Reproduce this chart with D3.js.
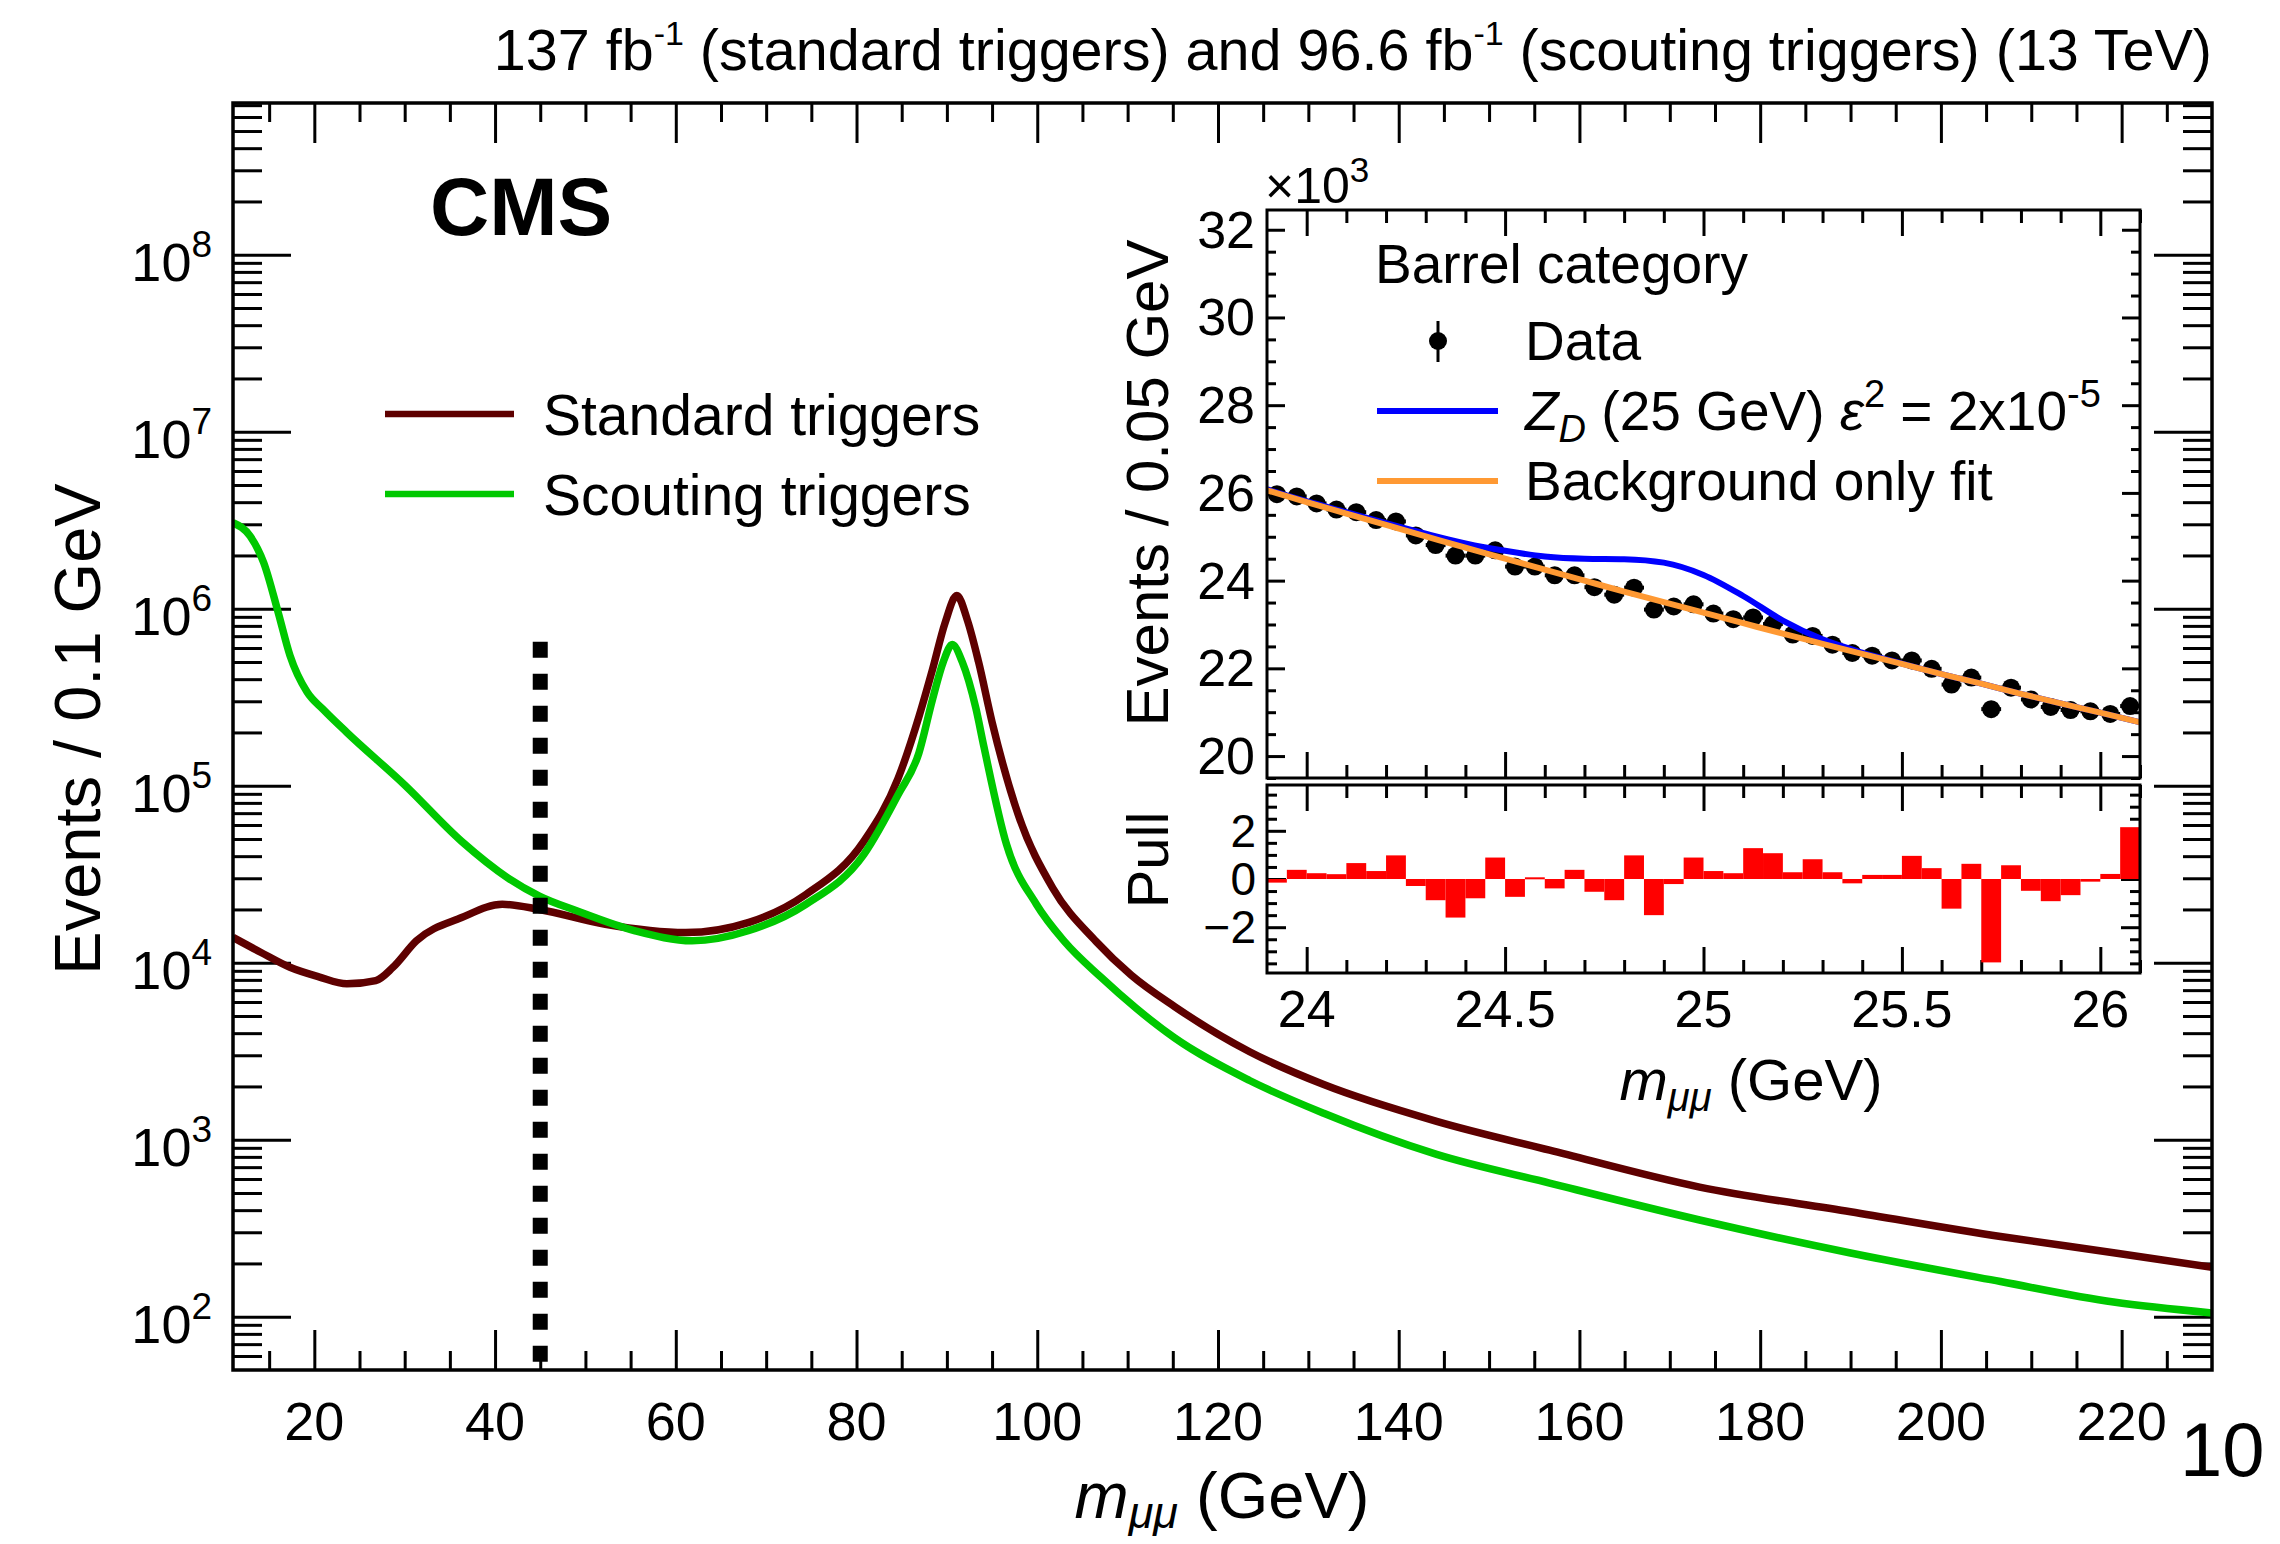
<!DOCTYPE html>
<html>
<head>
<meta charset="utf-8">
<script src="https://cdn.jsdelivr.net/npm/d3@7"></script>
<style>
  body { margin: 0; background: #fff; }
  text { font-family: "Liberation Sans", Arial, Helvetica, sans-serif; fill: #000; }
</style>
</head>
<body>
<div id="chart"></div>
<script>
// ---- main plot: dimuon mass spectra (Events / 0.1 GeV) ----
const stdMass = [11, 14, 17.3, 20.5, 23.6, 26.8, 28.7, 31.3, 36.3, 40.8, 44.9, 52.2, 61.1, 68.1, 74.4, 80.8, 84.6, 86.9, 88.4, 89.8,
  91.1, 92.3, 93.5, 95.0, 97.9, 101.7, 106.5, 110.4, 115.2, 123.5, 131.7, 144.2, 156.7, 173.3, 190, 206.6, 219.1, 230];
const stdEvents = [13900, 11500, 9420, 8320, 7600, 7930, 9420, 13300, 18000, 21400, 20000, 16500, 14800, 16900, 24300, 48500, 110000, 245000, 452000, 832000,
  1186000, 851000, 502000, 229000, 68500, 26500, 13200, 8510, 5650, 3140, 2050, 1270, 873, 540, 392, 284, 230, 190];

const sctMass = [11, 12.9, 14.4, 16, 17.3, 19.2, 21, 23.6, 30, 36.3, 41.4, 44.9, 49.1, 55.4, 61.8, 68.1, 74.4, 80.8, 84.6, 86.9, 88.4,
  89.6, 90.6, 91.7, 93.2, 94.1, 96.6, 99.9, 103, 107, 111, 115.2, 123.5, 131.7, 144.2, 156.7, 173.3, 190, 206.6, 219.1, 230];
const sctEvents = [3060000, 2570000, 1820000, 953000, 545000, 338000, 269000, 200000, 101000, 48500, 30200, 23800, 19600, 15200, 13300, 15200, 21400, 40800, 88900, 153000, 306000,
  501000, 627000, 501000, 275000, 166000, 46600, 21400, 13200, 8320, 5500, 3760, 2160, 1410, 826, 569, 352, 229, 158, 121, 105];

const cutMass = 45;          // vertical dashed line
const cutTop = 6.5e5;

const xTicks = [20, 40, 60, 80, 100, 120, 140, 160, 180, 200, 220];
const xMinor = d3.range(15, 230, 5).filter(v => v % 20 !== 0);
const yTicks = [1e2, 1e3, 1e4, 1e5, 1e6, 1e7, 1e8];

// ---- inset: barrel category, bins of 0.05 GeV (events x 10^3) ----
const binCentres = [23.925, 23.975, 24.025, 24.075, 24.125, 24.175, 24.225, 24.275, 24.325, 24.375, 24.425, 24.475, 24.525, 24.575, 24.625,
  24.675, 24.725, 24.775, 24.825, 24.875, 24.925, 24.975, 25.025, 25.075, 25.125, 25.175, 25.225, 25.275, 25.325, 25.375, 25.425, 25.475,
  25.525, 25.575, 25.625, 25.675, 25.725, 25.775, 25.825, 25.875, 25.925, 25.975, 26.025, 26.075];
const barrelData = [25.97, 25.92, 25.76, 25.62, 25.56, 25.38, 25.35, 25.03, 24.81, 24.57, 24.57, 24.69, 24.32, 24.32, 24.12, 24.12, 23.85,
  23.68, 23.84, 23.34, 23.41, 23.46, 23.25, 23.12, 23.16, 23.01, 22.77, 22.74, 22.54, 22.35, 22.29, 22.18, 22.18, 21.99, 21.63, 21.79,
  21.07, 21.56, 21.29, 21.12, 21.05, 21.02, 20.96, 21.14];
const pulls = [-0.15, 0.38, 0.24, 0.2, 0.66, 0.33, 0.98, -0.29, -0.88, -1.6, -0.8, 0.89, -0.74, 0.07, -0.39, 0.38, -0.53, -0.88, 0.98, -1.5,
  -0.21, 0.89, 0.33, 0.24, 1.28, 1.07, 0.28, 0.82, 0.28, -0.18, 0.17, 0.17, 0.96, 0.45, -1.23, 0.63, -3.46, 0.57, -0.49, -0.92, -0.67, -0.11, 0.21, 2.15];

const curveMass = [23.9, 24.0, 24.1, 24.2, 24.3, 24.4, 24.5, 24.6, 24.7, 24.8, 24.9, 25.0, 25.1, 25.2, 25.3, 25.4, 25.5, 25.6, 25.7, 25.8, 25.9, 26.0, 26.1];
const bkgFit = [26.06, 25.79, 25.53, 25.27, 25.01, 24.75, 24.50, 24.25, 24.00, 23.75, 23.51, 23.27, 23.03, 22.79, 22.56, 22.33, 22.10, 21.87, 21.65, 21.42, 21.20, 20.99, 20.77];
const zdSignal = [26.08, 25.81, 25.56, 25.31, 25.07, 24.85, 24.68, 24.55, 24.50, 24.49, 24.41, 24.13, 23.65, 23.09, 22.66, 22.36, 22.11, 21.87, 21.65, 21.42, 21.20, 20.99, 20.77];

const insetXTicks = [24, 24.5, 25, 25.5, 26];
const insetYTicks = [20, 22, 24, 26, 28, 30, 32];
const pullTicks = [-2, 0, 2];
const binWidth = 0.05;

const colStd = "#5e0000", colSct = "#00c800";

const svg = d3.select("#chart").append("svg")
  .attr("width", 2280).attr("height", 1544);

const frame = { left: 233, right: 2212, top: 103, bottom: 1370 };
const x = d3.scaleLinear().domain([11, 230]).range([frame.left, frame.right]);
const y = d3.scaleLog().domain([50, 7.2e8]).range([frame.bottom, frame.top]);

// draws ticks of one side; ticks point into the frame
function ticks(axisFn, scale, values, size, pos, horizontal) {
  const g = svg.append("g")
    .attr("transform", horizontal ? `translate(0,${pos})` : `translate(${pos},0)`)
    .call(axisFn(scale).tickValues(values).tickSizeInner(-size).tickSizeOuter(0).tickFormat(""));
  g.select(".domain").remove();
  g.selectAll("line").attr("stroke", "#000").attr("stroke-width", 3);
  return g;
}

function logMinor(lo, hi) {
  const out = [];
  for (let k = 1; k <= 8; k++) for (let m = 2; m <= 9; m++) {
    const v = m * Math.pow(10, k);
    if (v > lo && v < hi) out.push(v);
  }
  return out;
}

// ---- main frame ticks ----
ticks(d3.axisBottom, x, xTicks, 40, frame.bottom, true);
ticks(d3.axisBottom, x, xMinor, 19, frame.bottom, true);
ticks(d3.axisTop, x, xTicks, 40, frame.top, true);
ticks(d3.axisTop, x, xMinor, 19, frame.top, true);
const yMinor = logMinor(50, 7.2e8);
ticks(d3.axisLeft, y, yTicks, 58, frame.left, false);
ticks(d3.axisLeft, y, yMinor, 29, frame.left, false);
ticks(d3.axisRight, y, yTicks, 58, frame.right, false);
ticks(d3.axisRight, y, yMinor, 29, frame.right, false);

svg.append("g").selectAll("text").data(xTicks).enter().append("text")
  .attr("x", d => x(d)).attr("y", 1440)
  .attr("text-anchor", "middle").attr("font-size", 54)
  .text(d => d);

const yLab = svg.append("g").selectAll("text").data(yTicks).enter().append("text")
  .attr("x", 212).attr("y", d => y(d) + 26)
  .attr("text-anchor", "end").attr("font-size", 54);
yLab.append("tspan").text("10");
yLab.append("tspan").attr("dy", -24).attr("font-size", 37).text(d => Math.round(Math.log10(d)));

// ---- curves ----
svg.append("clipPath").attr("id", "mainClip").append("rect")
  .attr("x", frame.left).attr("y", frame.top)
  .attr("width", frame.right - frame.left).attr("height", frame.bottom - frame.top);

const line = d3.line().x(d => x(d[0])).y(d => y(d[1])).curve(d3.curveMonotoneX);

svg.append("path")
  .datum(d3.zip(stdMass, stdEvents))
  .attr("clip-path", "url(#mainClip)")
  .attr("fill", "none").attr("stroke", colStd).attr("stroke-width", 7.5)
  .attr("stroke-linejoin", "round")
  .attr("d", line);

svg.append("path")
  .datum(d3.zip(sctMass, sctEvents))
  .attr("clip-path", "url(#mainClip)")
  .attr("fill", "none").attr("stroke", colSct).attr("stroke-width", 7.5)
  .attr("stroke-linejoin", "round")
  .attr("d", line);

svg.append("line")
  .attr("x1", x(cutMass)).attr("x2", x(cutMass))
  .attr("y1", y(cutTop)).attr("y2", frame.bottom)
  .attr("stroke", "#000").attr("stroke-width", 15)
  .attr("stroke-dasharray", "16,16");

svg.append("rect")
  .attr("x", frame.left).attr("y", frame.top)
  .attr("width", frame.right - frame.left).attr("height", frame.bottom - frame.top)
  .attr("fill", "none").attr("stroke", "#000").attr("stroke-width", 3.5);

// ---- main texts ----
svg.append("text").attr("x", 430).attr("y", 235)
  .attr("font-size", 82).attr("font-weight", "bold").text("CMS");

const lumi = svg.append("text").attr("x", 2212).attr("y", 70)
  .attr("text-anchor", "end").attr("font-size", 57.5);
lumi.append("tspan").text("137 fb");
lumi.append("tspan").attr("dy", -25).attr("font-size", 34).text("-1");
lumi.append("tspan").attr("dy", 25).text(" (standard triggers) and 96.6 fb");
lumi.append("tspan").attr("dy", -25).attr("font-size", 34).text("-1");
lumi.append("tspan").attr("dy", 25).text(" (scouting triggers) (13 TeV)");

const legendItems = [
  { label: "Standard triggers", color: colStd, y: 414 },
  { label: "Scouting triggers", color: colSct, y: 494 }
];
legendItems.forEach(d => {
  svg.append("line").attr("x1", 385).attr("x2", 514).attr("y1", d.y).attr("y2", d.y)
    .attr("stroke", d.color).attr("stroke-width", 6.5);
  svg.append("text").attr("x", 543).attr("y", d.y + 21).attr("font-size", 57).text(d.label);
});

const xTitle = svg.append("text").attr("x", 1222).attr("y", 1518)
  .attr("text-anchor", "middle").attr("font-size", 65);
xTitle.append("tspan").attr("font-style", "italic").text("m");
xTitle.append("tspan").attr("font-style", "italic").attr("font-size", 45).attr("dy", 10).text("μμ");
xTitle.append("tspan").attr("dy", -10).text(" (GeV)");

svg.append("text")
  .attr("transform", "translate(100,729) rotate(-90)")
  .attr("text-anchor", "middle").attr("font-size", 65)
  .text("Events / 0.1 GeV");

svg.append("text").attr("x", 2180).attr("y", 1476).attr("font-size", 76).text("10");

// ---- inset ----
const pad = { left: 1267, right: 2140, top: 210, bottom: 778, pTop: 785, pBottom: 973 };
const xi = d3.scaleLinear().domain([23.9, 26.1]).range([pad.left, pad.right]);
const yi = d3.scaleLinear().domain([19.5, 32.45]).range([pad.bottom, pad.top]);
const yp = d3.scaleLinear().domain([-3.9, 3.9]).range([pad.pBottom, pad.pTop]);

const insetXMinor = d3.range(24.0, 26.1, 0.1).map(v => +v.toFixed(2)).filter(v => !insetXTicks.includes(v));
const insetYMinor = d3.range(19.5, 32.5, 0.5).filter(v => !insetYTicks.includes(v));
const pullMinor = d3.range(-3.5, 3.6, 0.5).filter(v => !pullTicks.includes(v));

[[pad.bottom, d3.axisBottom], [pad.top, d3.axisTop], [pad.pBottom, d3.axisBottom], [pad.pTop, d3.axisTop]].forEach(([p, fn]) => {
  ticks(fn, xi, insetXTicks, 26, p, true);
  ticks(fn, xi, insetXMinor, 13, p, true);
});
ticks(d3.axisLeft, yi, insetYTicks, 18, pad.left, false);
ticks(d3.axisLeft, yi, insetYMinor, 9, pad.left, false);
ticks(d3.axisRight, yi, insetYTicks, 18, pad.right, false);
ticks(d3.axisRight, yi, insetYMinor, 9, pad.right, false);
ticks(d3.axisLeft, yp, pullTicks, 19, pad.left, false);
ticks(d3.axisLeft, yp, pullMinor, 10, pad.left, false);
ticks(d3.axisRight, yp, pullTicks, 19, pad.right, false);
ticks(d3.axisRight, yp, pullMinor, 10, pad.right, false);

svg.append("g").selectAll("text").data(insetYTicks).enter().append("text")
  .attr("x", 1255).attr("y", d => yi(d) + 18)
  .attr("text-anchor", "end").attr("font-size", 52).text(d => d);
svg.append("g").selectAll("text").data(pullTicks).enter().append("text")
  .attr("x", 1256).attr("y", d => yp(d) + 16)
  .attr("text-anchor", "end").attr("font-size", 46).text(d3.format(""));
svg.append("g").selectAll("text").data(insetXTicks).enter().append("text")
  .attr("x", d => xi(d)).attr("y", 1027)
  .attr("text-anchor", "middle").attr("font-size", 52).text(d => d);

const x103 = svg.append("text").attr("x", 1265).attr("y", 203).attr("font-size", 50);
x103.append("tspan").text("×10");
x103.append("tspan").attr("dy", -21).attr("font-size", 35).text("3");

svg.append("text")
  .attr("transform", "translate(1168,483) rotate(-90)")
  .attr("text-anchor", "middle").attr("font-size", 60)
  .text("Events / 0.05 GeV");
svg.append("text")
  .attr("transform", "translate(1168,860) rotate(-90)")
  .attr("text-anchor", "middle").attr("font-size", 58)
  .text("Pull");

const xiTitle = svg.append("text").attr("x", 1751).attr("y", 1100)
  .attr("text-anchor", "middle").attr("font-size", 58);
xiTitle.append("tspan").attr("font-style", "italic").text("m");
xiTitle.append("tspan").attr("font-style", "italic").attr("font-size", 40).attr("dy", 11).text("μμ");
xiTitle.append("tspan").attr("dy", -11).text(" (GeV)");

// pull histogram
svg.append("g").selectAll("rect").data(d3.zip(binCentres, pulls)).enter().append("rect")
  .attr("x", d => xi(d[0] - binWidth / 2))
  .attr("width", d => xi(d[0] + binWidth / 2) - xi(d[0] - binWidth / 2))
  .attr("y", d => Math.min(yp(0), yp(d[1])))
  .attr("height", d => Math.max(2, Math.abs(yp(d[1]) - yp(0))))
  .attr("fill", "#ff0000");

// upper pad contents
svg.append("clipPath").attr("id", "insetClip").append("rect")
  .attr("x", pad.left).attr("y", pad.top)
  .attr("width", pad.right - pad.left).attr("height", pad.bottom - pad.top);

const iline = d3.line().x(d => xi(d[0])).y(d => yi(d[1])).curve(d3.curveMonotoneX);

const pts = svg.append("g").attr("clip-path", "url(#insetClip)");
d3.zip(binCentres, barrelData).forEach(d => {
  const err = Math.sqrt(d[1] * 1000) / 1000;
  pts.append("line").attr("x1", xi(d[0] - binWidth / 2)).attr("x2", xi(d[0] + binWidth / 2))
    .attr("y1", yi(d[1])).attr("y2", yi(d[1])).attr("stroke", "#000").attr("stroke-width", 4);
  pts.append("line").attr("x1", xi(d[0])).attr("x2", xi(d[0]))
    .attr("y1", yi(d[1] - err)).attr("y2", yi(d[1] + err)).attr("stroke", "#000").attr("stroke-width", 3);
  pts.append("circle").attr("cx", xi(d[0])).attr("cy", yi(d[1])).attr("r", 9).attr("fill", "#000");
});

svg.append("path").datum(d3.zip(curveMass, zdSignal))
  .attr("clip-path", "url(#insetClip)")
  .attr("fill", "none").attr("stroke", "#0000ff").attr("stroke-width", 6).attr("d", iline);
svg.append("path").datum(d3.zip(curveMass, bkgFit))
  .attr("clip-path", "url(#insetClip)")
  .attr("fill", "none").attr("stroke", "#ff9933").attr("stroke-width", 6).attr("d", iline);

svg.append("rect").attr("x", pad.left).attr("y", pad.top)
  .attr("width", pad.right - pad.left).attr("height", pad.bottom - pad.top)
  .attr("fill", "none").attr("stroke", "#000").attr("stroke-width", 3);
svg.append("rect").attr("x", pad.left).attr("y", pad.pTop)
  .attr("width", pad.right - pad.left).attr("height", pad.pBottom - pad.pTop)
  .attr("fill", "none").attr("stroke", "#000").attr("stroke-width", 3);

// inset legend
svg.append("text").attr("x", 1375).attr("y", 283).attr("font-size", 55).text("Barrel category");
svg.append("line").attr("x1", 1438).attr("x2", 1438).attr("y1", 321).attr("y2", 362)
  .attr("stroke", "#000").attr("stroke-width", 3);
svg.append("circle").attr("cx", 1438).attr("cy", 341).attr("r", 9).attr("fill", "#000");
svg.append("text").attr("x", 1525).attr("y", 360).attr("font-size", 55).text("Data");

svg.append("line").attr("x1", 1377).attr("x2", 1498).attr("y1", 411).attr("y2", 411)
  .attr("stroke", "#0000ff").attr("stroke-width", 6);
const zd = svg.append("text").attr("x", 1525).attr("y", 430).attr("font-size", 55);
zd.append("tspan").attr("font-style", "italic").text("Z");
zd.append("tspan").attr("font-style", "italic").attr("font-size", 38).attr("dy", 12).text("D");
zd.append("tspan").attr("dy", -12).text(" (25 GeV) ");
zd.append("tspan").attr("font-style", "italic").text("ε");
zd.append("tspan").attr("font-size", 38).attr("dy", -23).text("2");
zd.append("tspan").attr("dy", 23).text(" = 2x10");
zd.append("tspan").attr("font-size", 38).attr("dy", -23).text("-5");

svg.append("line").attr("x1", 1377).attr("x2", 1498).attr("y1", 481).attr("y2", 481)
  .attr("stroke", "#ff9933").attr("stroke-width", 6);
svg.append("text").attr("x", 1525).attr("y", 500).attr("font-size", 55).text("Background only fit");
</script>
</body>
</html>
